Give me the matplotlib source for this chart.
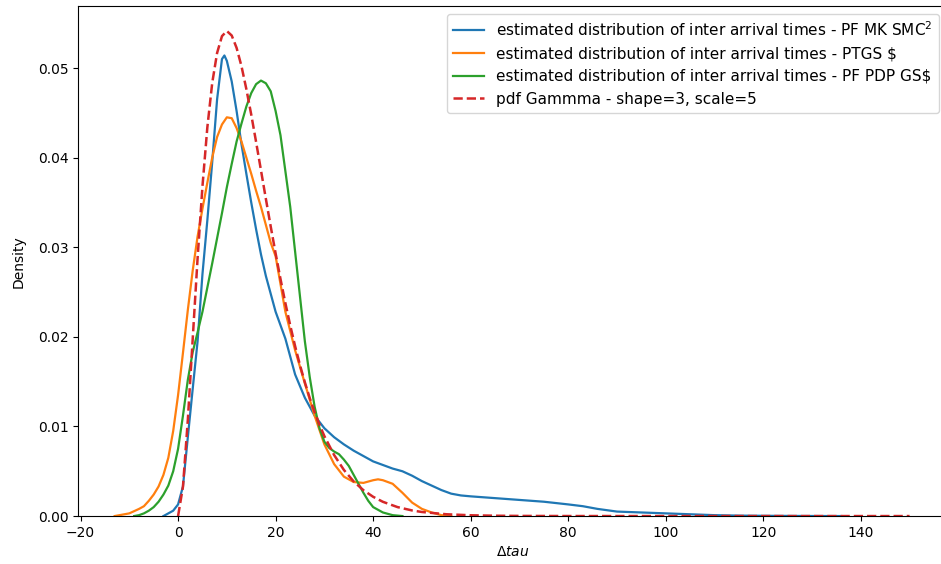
import matplotlib
matplotlib.use("Agg")
import matplotlib.pyplot as plt

# --- данные ---

x_mk = [-3, -2, -1, 0, 1, 2, 3, 4, 5, 6, 7, 8, 9, 9.5, 10, 11, 12, 13, 14, 15,
        16, 17, 18, 20, 22, 24, 26, 28, 30, 32, 34, 36, 38, 40, 42, 44, 46, 48,
        50, 52, 54, 56, 58, 60, 65, 70, 75, 80, 83, 86, 90, 95, 100, 105, 110,
        115, 120, 128, 136]
y_mk = [0.0, 0.0003, 0.0006, 0.0013, 0.0033, 0.0088, 0.0142, 0.0195, 0.027,
        0.033, 0.0395, 0.0465, 0.051, 0.0514, 0.0508, 0.0485, 0.0452, 0.0415,
        0.0382, 0.035, 0.032, 0.0292, 0.0268, 0.0228, 0.0198, 0.0158, 0.0132,
        0.0112, 0.0098, 0.0088, 0.008, 0.0073, 0.0067, 0.0061, 0.0057, 0.0053,
        0.005, 0.0045, 0.0039, 0.0034, 0.0029, 0.0025, 0.0023, 0.0022, 0.002,
        0.0018, 0.0016, 0.0013, 0.0011, 0.0008, 0.0005, 0.0004, 0.0003, 0.0002,
        0.0001, 0.00005, 0.00003, 0.00001, 0.0]

x_ptgs = [-13, -12, -10, -8, -7, -6, -5, -4, -3, -2, -1, 0, 1, 2, 3, 4, 5, 6,
          7, 8, 9, 10, 11, 12, 13, 14, 15, 16, 17, 18, 19, 20, 22, 24, 26, 28,
          30, 32, 34, 36, 38, 40, 41, 42, 44, 46, 48, 50, 52, 54, 56]
y_ptgs = [0.0, 0.0001, 0.0003, 0.0008, 0.0011, 0.0017, 0.0024, 0.0033, 0.0046,
          0.0065, 0.0095, 0.0135, 0.0182, 0.023, 0.0274, 0.0312, 0.0343, 0.0372,
          0.04, 0.0423, 0.0437, 0.0445, 0.0444, 0.0433, 0.0418, 0.04, 0.0382,
          0.0363, 0.0345, 0.0325, 0.0305, 0.029, 0.0228, 0.0185, 0.0148, 0.0112,
          0.008, 0.0058, 0.0044, 0.0038, 0.0037, 0.004, 0.0041, 0.004, 0.0036,
          0.0026, 0.0015, 0.0008, 0.0004, 0.0001, 0.0]

x_pdp = [-9, -8, -7, -6, -5, -4, -3, -2, -1, 0, 1, 2, 3, 4, 5, 6, 7, 8, 9, 10,
         11, 12, 13, 14, 15, 16, 17, 18, 19, 20, 21, 22, 23, 24, 25, 26, 27, 28,
         29, 30, 31, 32, 33, 34, 35, 36, 37, 38, 39, 40, 42, 44, 46]
y_pdp = [0.0, 0.0001, 0.0003, 0.0006, 0.001, 0.0016, 0.0024, 0.0034, 0.005,
         0.0075, 0.0112, 0.0152, 0.0183, 0.0205, 0.0228, 0.0255, 0.0282, 0.031,
         0.0338, 0.0367, 0.0393, 0.0418, 0.0438, 0.0457, 0.0472, 0.0482, 0.0486,
         0.0483, 0.0474, 0.0452, 0.0425, 0.0385, 0.0345, 0.0295, 0.0245, 0.0195,
         0.0155, 0.0122, 0.0098, 0.0083, 0.0076, 0.0072, 0.0069, 0.0063, 0.0056,
         0.0046, 0.0036, 0.0026, 0.0017, 0.001, 0.0004, 0.0001, 0.0]

x_gamma = [0, 1, 2, 3, 4, 5, 6, 7, 8, 9, 10, 11, 12, 13, 14, 15, 16, 17, 18,
           19, 20, 21, 22, 23, 24, 25, 26, 27, 28, 29, 30, 32, 34, 36, 38, 40,
           42, 45, 48, 50, 55, 60, 65, 70, 80, 90, 100, 150]
y_gamma = [0.0, 0.00327, 0.01073, 0.01976, 0.02876, 0.03679, 0.04337, 0.04833,
           0.05168, 0.05356, 0.05413, 0.05363, 0.05225, 0.05021, 0.04765,
           0.04481, 0.04174, 0.03858, 0.03541, 0.0323, 0.02931, 0.02646,
           0.02377, 0.02127, 0.01896, 0.01684, 0.01492, 0.01317, 0.0116,
           0.01019, 0.00892, 0.00681, 0.00515, 0.00387, 0.00289, 0.00215,
           0.00159, 0.001, 0.000624, 0.000454, 0.000202, 0.000088, 0.000038,
           0.000016, 0.000003, 0.0000005, 0.0, 0.0]

labels = [
    "estimated distribution of inter arrival times - PF MK SMC$^2$",
    "estimated distribution of inter arrival times - PTGS $",
    "estimated distribution of inter arrival times - PF PDP GS$",
    "pdf Gammma - shape=3, scale=5",
]

# --- график ---

fig, ax = plt.subplots(figsize=(9.41, 5.64), dpi=100)
# правый край осей чуть за пределами картинки, как в оригинале
fig.subplots_adjust(left=0.083, right=1.006, top=0.989, bottom=0.085)

ax.plot(x_mk, y_mk, color="C0", lw=1.6, label=labels[0])
ax.plot(x_ptgs, y_ptgs, color="C1", lw=1.6, label=labels[1])
ax.plot(x_pdp, y_pdp, color="C2", lw=1.6, label=labels[2])
ax.plot(x_gamma, y_gamma, color="C3", lw=1.8, ls="--", label=labels[3])

ax.set_xlim(-20.5, 157.6)
ax.set_ylim(0, 0.0569)
ax.set_xlabel(r"$\Delta tau$")
ax.set_ylabel("Density", labelpad=9)
ax.legend(loc="upper right", fontsize=11)

fig.savefig("out.png")
